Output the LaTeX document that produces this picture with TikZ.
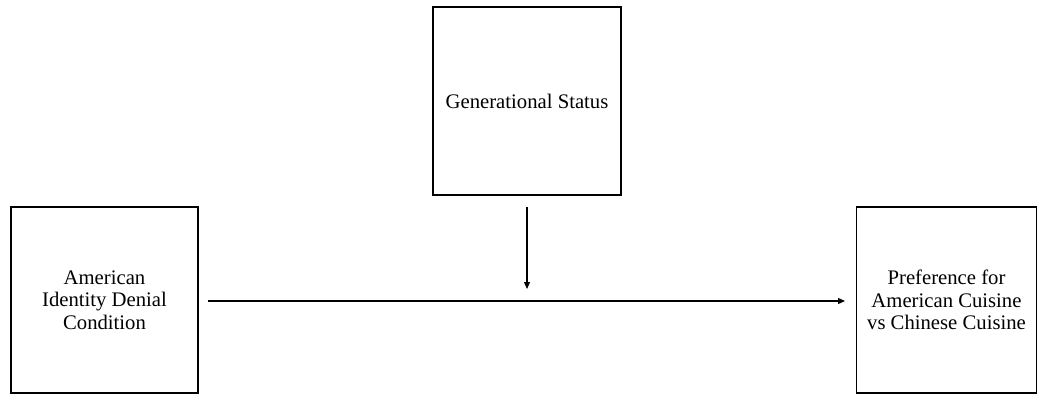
\documentclass[tikz,border=0pt]{standalone}
\usepackage{fontspec}
\setmainfont{Liberation Serif}
\usetikzlibrary{arrows.meta}
\begin{document}
\begin{tikzpicture}[x=1pt,y=-1pt,
  box/.style={draw=black, line width=1.3pt, minimum width=#1, inner sep=0pt, align=center, font=\fontsize{20.7}{22.5}\selectfont},
  arr/.style={line width=1.2pt, -{Triangle[length=7pt,width=6pt]}}]
\useasboundingbox (0,0) rectangle (1037,394);
\node[box=188pt, minimum height=188pt] (gen) at (527,101) {Generational Status};
\node[box=187pt, minimum height=186pt] (iv) at (104.5,300) {American\\Identity Denial\\Condition};
\node[box=180pt, minimum height=186pt] (dv) at (946.5,300) {Preference for\\American Cuisine\\vs Chinese Cuisine};
\coordinate (hs) at (208,301);
\coordinate (he) at (845,301);
\coordinate (vs) at (527,207);
\coordinate (ve) at (527,289);
\draw[arr] (hs) -- (he);
\draw[arr] (vs) -- (ve);
\end{tikzpicture}
\end{document}
